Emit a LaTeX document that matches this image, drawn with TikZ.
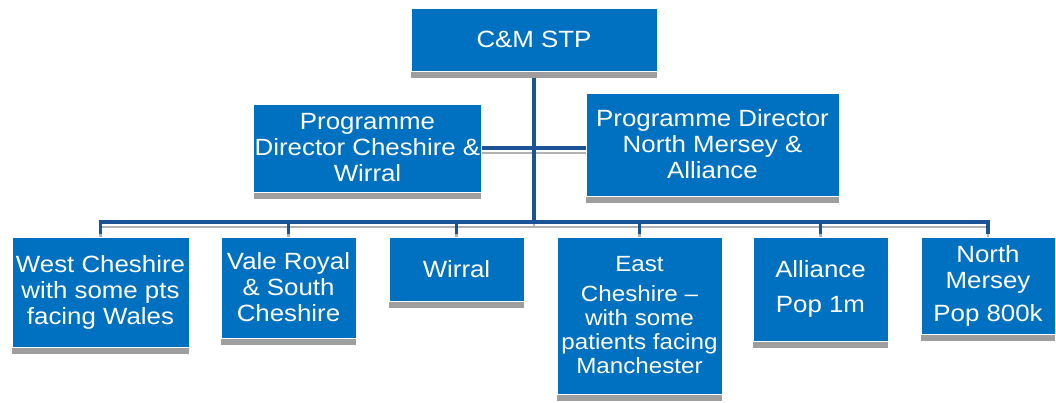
\documentclass[tikz,border=0pt]{standalone}
\usepackage{fontspec}
\setmainfont{Liberation Sans}[FakeStretch=1.1]
\usepackage{tikz}
\usetikzlibrary{shadows, backgrounds}

\definecolor{boxblue}{RGB}{0,112,192}
\definecolor{linkblue}{RGB}{28,82,150}

\tikzset{
  unit/.style={rectangle, fill=boxblue, draw=white, line width=0.8pt,
    text=white, align=center, inner sep=1pt,
    font=\fontsize{23.5}{26}\selectfont,
    drop shadow={shadow xshift=0pt, shadow yshift=-7pt,
      fill=black!38, opacity=1}},
  link/.style={draw=linkblue, line width=3.2pt},
  linkshade/.style={draw=black!30, line width=2.6pt},
}

% all connectors of the chart, style given as argument
\newcommand{\orglinks}[1]{
  \draw[#1] (stp.south) -- (hub);
  \draw[#1] (pdcw.east) -- (pdcw.east -| pdnm.west);
  \foreach \n in {west,vale,wirral,east,alliance,north}
    \draw[#1, shorten >=3pt] (hub) -| (\n.north);
}

\begin{document}
\begin{tikzpicture}[x=1pt, y=-1pt]
  \useasboundingbox (0,0) rectangle (1056,403);

  \node[unit, minimum width=246pt, minimum height=63pt] (stp) at (534,39.5) {C\&M STP};

  % programme directors
  \node[unit, minimum width=227pt, minimum height=88pt] (pdcw) at (367.5,148)
    {Programme\\Director Cheshire \&\\Wirral};
  \node[unit, minimum width=253pt, minimum height=103pt] (pdnm) at (712.5,144.5)
    {Programme Director\\North Mersey \&\\Alliance};

  % places
  \node[unit, minimum width=177pt, minimum height=110pt] (west) at (100.5,292)
    {West Cheshire\\with some pts\\facing Wales};
  \node[unit, minimum width=135pt, minimum height=101pt] (vale) at (288.5,287.5)
    {Vale Royal\\\& South\\Cheshire};
  \node[unit, minimum width=135pt, minimum height=64pt] (wirral) at (456.5,269) {Wirral};
  \node[unit, minimum width=165pt, minimum height=157pt, font=\fontsize{22}{24}\selectfont]
    (east) at (639.5,315.5)
    {East\\[6pt]Cheshire –\\with some\\patients facing\\Manchester};
  \node[unit, minimum width=135pt, minimum height=104pt] (alliance) at (820.5,289)
    {Alliance\\[9pt]Pop 1m};
  \node[unit, minimum width=134pt, minimum height=97pt] (north) at (988,285.5)
    {North\\Mersey\\[7pt]Pop 800k};

  \coordinate (hub) at (534,222);

  \begin{scope}[on background layer]
    \begin{scope}[transform canvas={yshift=-5pt}]
      \orglinks{linkshade}
    \end{scope}
    \orglinks{link}
  \end{scope}
\end{tikzpicture}
\end{document}
